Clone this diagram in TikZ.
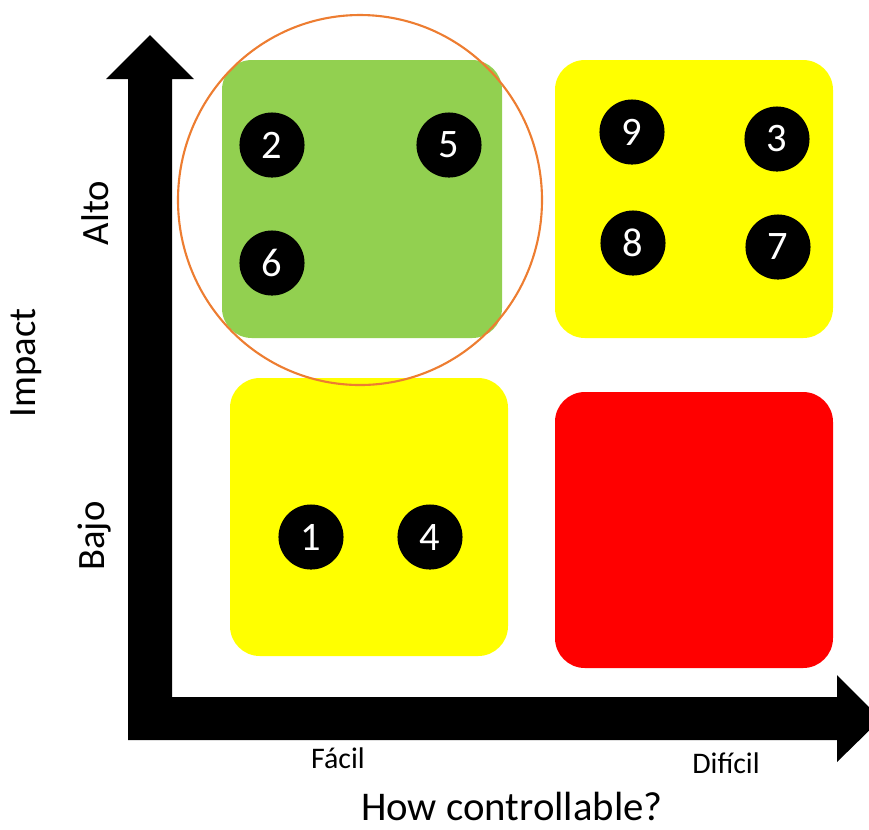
\documentclass[tikz,border=0pt]{standalone}
\usepackage{fontspec}
\setmainfont{Carlito}
\usetikzlibrary{calc}

\definecolor{quadgreen}{HTML}{92D050}
\definecolor{quadyellow}{HTML}{FFFF00}
\definecolor{quadred}{HTML}{FF0000}
\definecolor{ringorange}{HTML}{ED7D31}

\tikzset{
  quad/.style={rounded corners=8.5pt},
  dot/.style={circle, fill=black, text=white, inner sep=0pt,
    minimum size=18.5pt, font=\fontsize{11.5}{12}\selectfont},
  axislabel/.style={font=\fontsize{11}{13}\selectfont},
  ticklabel/.style={font=\fontsize{8.5}{10}\selectfont},
}

\begin{document}
\begin{tikzpicture}[x=0.01cm, y=-0.01cm]%
  \useasboundingbox (0,0) rectangle (869,829);
  \clip (0,0) rectangle (869,829);

  \fill[quadgreen, quad] (222,60) rectangle (502,338);
  \fill[quadyellow, quad] (555,60) rectangle (833,338);
  \fill[quadyellow, quad] (230,378) rectangle (508,656);
  \fill[quadred, quad] (555,392) rectangle (833,668);

  \draw[ringorange, line width=0.6pt]
    (360,200) ellipse [x radius=182, y radius=185];

  \fill[black]
    (128,740)
    --
    (128,79) -- (106,79) -- (150,35) -- (194,79) -- (172,79)
    --
    (172,697)
    --
    (837,697) -- (837,675) -- (881,719) -- (837,762) -- (837,740)
    --
    cycle
    ;

  \foreach \n/\x/\y in {2/272/145, 5/449/145, 6/272/263,
                        9/632/132, 3/777/139, 8/633/243, 7/778/247,
                        1/311/537, 4/430/537} {
    \node[dot] (dot\n) at (\x,\y) {\n};
  }

  \node[axislabel, rotate=90] (alto) at (95,213) {Alto};
  \node[axislabel, rotate=90] (bajo) at (95,536) {Bajo};
  \node[axislabel, rotate=90] (impact) at (26,363) {Impact};
  \node[ticklabel] (facil) at (338,758) {Fácil};
  \node[ticklabel] (dificil) at (726,763) {Difícil};
  \node[font=\fontsize{11.6}{13}\selectfont] (howctrl) at (512,806) {How controllable?};
\end{tikzpicture}
\end{document}
